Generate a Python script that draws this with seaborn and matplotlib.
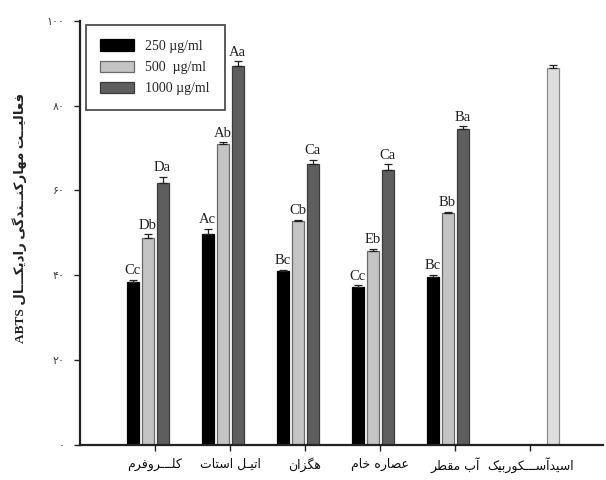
import numpy as np
import pandas as pd
import matplotlib
matplotlib.use("Agg")
import matplotlib.pyplot as plt
from matplotlib.patches import Patch
import seaborn as sns

# ---- data -------------------------------------------------------------
categories = ["کلـــروفرم", "اتیـل استات", "هگزان", "عصاره خام", "آب مقطر", "اسیدآســـکوربیک"]
series = ["250 µg/ml", "500  µg/ml", "1000 µg/ml", "ascorbic"]

vals_250 = [38.5, 49.7, 40.9, 37.2, 39.7]
vals_500 = [48.7, 71.0, 52.8, 45.8, 54.6]
vals_1000 = [61.7, 89.2, 66.2, 64.9, 74.5]
vals_ascorbic = [88.8]

err_250 = [0.4, 1.3, 0.4, 0.4, 0.4]
err_500 = [1.0, 0.3, 0.3, 0.4, 0.3]
err_1000 = [1.5, 1.2, 1.0, 1.2, 0.6]
err_ascorbic = [0.7]

letters_250 = ["Cc", "Ac", "Bc", "Cc", "Bc"]
letters_500 = ["Db", "Ab", "Cb", "Eb", "Bb"]
letters_1000 = ["Da", "Aa", "Ca", "Ca", "Ba"]

y_ticks = [0, 20, 40, 60, 80, 100]
ylabel_words = "فعالیــت مهارکنــندگی رادیکـــال"


# ---- Persian shaping (presentation forms, visual order) ---------------
FORMS = {  # isolated, final, initial, medial
    "ا": ("\uFE8D", "\uFE8E", None, None),
    "آ": ("\uFE81", "\uFE82", None, None),
    "ب": ("\uFE8F", "\uFE90", "\uFE91", "\uFE92"),
    "ت": ("\uFE95", "\uFE96", "\uFE97", "\uFE98"),
    "خ": ("\uFEA5", "\uFEA6", "\uFEA7", "\uFEA8"),
    "د": ("\uFEA9", "\uFEAA", None, None),
    "ر": ("\uFEAD", "\uFEAE", None, None),
    "ز": ("\uFEAF", "\uFEB0", None, None),
    "س": ("\uFEB1", "\uFEB2", "\uFEB3", "\uFEB4"),
    "ص": ("\uFEB9", "\uFEBA", "\uFEBB", "\uFEBC"),
    "ط": ("\uFEC1", "\uFEC2", "\uFEC3", "\uFEC4"),
    "ع": ("\uFEC9", "\uFECA", "\uFECB", "\uFECC"),
    "ف": ("\uFED1", "\uFED2", "\uFED3", "\uFED4"),
    "ق": ("\uFED5", "\uFED6", "\uFED7", "\uFED8"),
    "ک": ("\uFB8E", "\uFB8F", "\uFB90", "\uFB91"),
    "گ": ("\uFB92", "\uFB93", "\uFB94", "\uFB95"),
    "ل": ("\uFEDD", "\uFEDE", "\uFEDF", "\uFEE0"),
    "م": ("\uFEE1", "\uFEE2", "\uFEE3", "\uFEE4"),
    "ن": ("\uFEE5", "\uFEE6", "\uFEE7", "\uFEE8"),
    "و": ("\uFEED", "\uFEEE", None, None),
    "ه": ("\uFEE9", "\uFEEA", "\uFEEB", "\uFEEC"),
    "ی": ("\uFBFC", "\uFBFD", "\uFBFE", "\uFBFF"),
    "ـ": ("\u0640", "\u0640", "\u0640", "\u0640"),
}


def joins_forward(ch):
    return ch in FORMS and FORMS[ch][2] is not None


def shape(text):
    out = []
    for i, ch in enumerate(text):
        if ch not in FORMS:
            out.append(ch)
            continue
        prev_j = i > 0 and joins_forward(text[i - 1])
        next_j = (i + 1 < len(text) and text[i + 1] in FORMS
                  and joins_forward(ch))
        iso, fin, ini, med = FORMS[ch]
        if prev_j and next_j:
            out.append(med)
        elif prev_j:
            out.append(fin)
        elif next_j:
            out.append(ini)
        else:
            out.append(iso)
    return "".join(reversed(out))


def fa_digits(n):
    return str(n).translate(str.maketrans("0123456789", "۰۱۲۳۴۵۶۷۸۹"))


# ---- table ------------------------------------------------------------
rows = []
for c, v, e in zip(categories, vals_250, err_250):
    rows.append((c, series[0], v, e))
for c, v, e in zip(categories, vals_500, err_500):
    rows.append((c, series[1], v, e))
for c, v, e in zip(categories, vals_1000, err_1000):
    rows.append((c, series[2], v, e))
rows.append((categories[5], series[3], vals_ascorbic[0], err_ascorbic[0]))
df = pd.DataFrame(rows, columns=["category", "series", "value", "err"])

# ---- figure -----------------------------------------------------------
sns.set_theme(style="white")
plt.rcParams["font.family"] = ["Liberation Serif", "DejaVu Sans"]

fig = plt.figure(figsize=(6.06, 4.8), dpi=100)
ax = fig.add_axes([0.132, 0.073, 0.863, 0.884])

fills = ["#000000", "#c4c4c4", "#5e5e5e", "#dedede"]
edges = ["#000000", "#6a6a6a", "#3c3c3c", "#8a8a8a"]

sns.barplot(data=df, x="category", y="value", hue="series",
            order=categories, hue_order=series, palette=fills,
            width=0.8, gap=0.2, errorbar=None, legend=False, ax=ax)

labels_by_series = [letters_250, letters_500, letters_1000, [""]]
bar_containers = list(ax.containers)
for k, cont in enumerate(bar_containers):
    sub = df[df["series"] == series[k]]
    xs, ys, es = [], [], []
    for bar, (_, r) in zip(cont.patches, sub.iterrows()):
        bar.set_edgecolor(edges[k])
        bar.set_linewidth(0.9)
        xs.append(bar.get_x() + bar.get_width() / 2)
        ys.append(bar.get_height())
        es.append(r["err"])
    ax.errorbar(xs, ys, yerr=[np.zeros(len(es)), es], fmt="none",
                ecolor="#222222", elinewidth=0.9, capsize=3.2,
                capthick=0.9, zorder=3)
    for x, y, e, lab in zip(xs, ys, es, labels_by_series[k]):
        ax.text(x, y + e + 0.6, lab, ha="center", va="bottom",
                fontsize=10.5, color="#222222")

ax.set_ylim(0, 100)
ax.set_xlim(-1.0, 5.97)
ax.set_yticks(y_ticks)
ax.set_yticklabels([fa_digits(t) for t in y_ticks], fontsize=8,
                   color="#444444", family=["DejaVu Sans"])
ax.set_xticks(range(len(categories)))
ax.set_xticklabels([shape(c) for c in categories], fontsize=9,
                   family=["DejaVu Sans"], color="#111111")
ax.tick_params(axis="both", direction="out", length=4, width=1,
               color="#222222", bottom=True, left=True)
ax.tick_params(axis="y", pad=7)
ax.tick_params(axis="x", pad=5)

for side in ["top", "right"]:
    ax.spines[side].set_visible(False)
for side in ["left", "bottom"]:
    ax.spines[side].set_color("#222222")
    ax.spines[side].set_linewidth(1.6)

ax.set_xlabel("")
ax.set_ylabel("ABTS " + shape(ylabel_words), fontsize=9.6, fontweight="bold",
              family=["Liberation Serif", "DejaVu Sans"], color="#222222")
ax.yaxis.set_label_coords(-0.101, 0.535)

handles = [Patch(facecolor=fills[i], edgecolor=edges[i], linewidth=0.9)
           for i in range(3)]
leg = ax.legend(handles, series[:3], loc="upper left",
                bbox_to_anchor=(0.011, 0.99), frameon=True, fancybox=False,
                edgecolor="#222222", fontsize=10, handlelength=2.45,
                handleheight=0.9, labelspacing=0.55, borderpad=1.05,
                handletextpad=0.8, borderaxespad=0.0)
leg.get_frame().set_linewidth(1.3)

fig.savefig("out.png", dpi=100)
